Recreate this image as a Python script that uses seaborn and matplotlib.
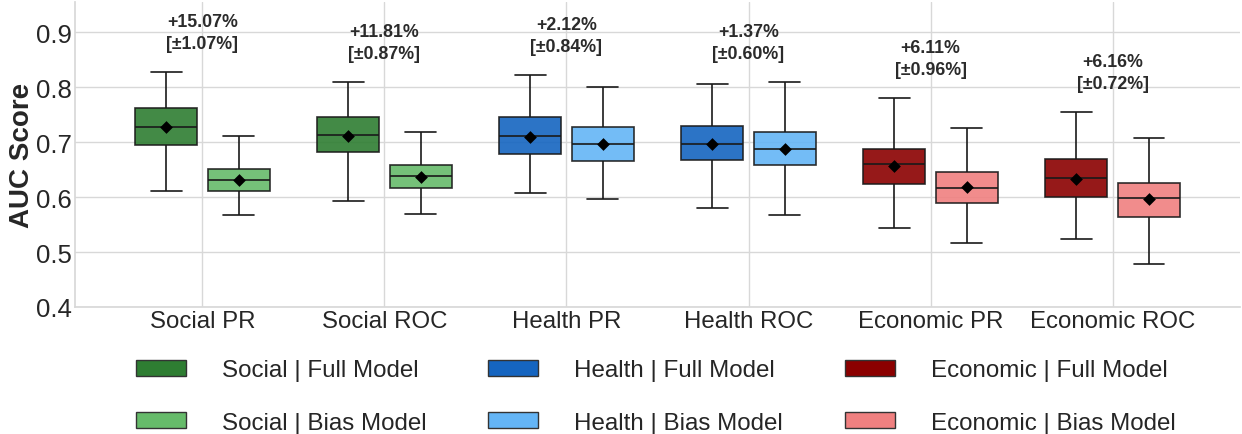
import numpy as np
import pandas as pd
import matplotlib
matplotlib.use("Agg")
import matplotlib.pyplot as plt
from matplotlib.patches import Patch
import seaborn as sns

metrics = ['Social PR', 'Social ROC', 'Health PR', 'Health ROC', 'Economic PR', 'Economic ROC']
domains = ['Social', 'Social', 'Health', 'Health', 'Economic', 'Economic']
models = ['Full Model', 'Bias Model']

# five-number summaries: low whisker, q1, median, q3, high whisker
full_stats = [
    [0.611, 0.695, 0.728, 0.763, 0.827],
    [0.593, 0.682, 0.713, 0.745, 0.809],
    [0.607, 0.679, 0.712, 0.745, 0.822],
    [0.581, 0.668, 0.697, 0.730, 0.806],
    [0.543, 0.623, 0.661, 0.688, 0.780],
    [0.523, 0.600, 0.634, 0.669, 0.754],
]
bias_stats = [
    [0.567, 0.612, 0.631, 0.652, 0.711],
    [0.570, 0.617, 0.639, 0.659, 0.719],
    [0.596, 0.666, 0.697, 0.727, 0.801],
    [0.568, 0.658, 0.687, 0.719, 0.809],
    [0.516, 0.590, 0.616, 0.645, 0.726],
    [0.478, 0.564, 0.599, 0.626, 0.708],
]
full_mean = [0.727, 0.711, 0.710, 0.696, 0.656, 0.633]
bias_mean = [0.632, 0.636, 0.696, 0.687, 0.618, 0.597]

gains = ['+15.07%', '+11.81%', '+2.12%', '+1.37%', '+6.11%', '+6.16%']
cis = ['±1.07%', '±0.87%', '±0.84%', '±0.60%', '±0.96%', '±0.72%']

colors = {
    'Social': ['#2E7D32', '#66BB6A'],
    'Health': ['#1565C0', '#64B5F6'],
    'Economic': ['#8B0000', '#F08080'],
}

rows = []
for m, d, fs, bs in zip(metrics, domains, full_stats, bias_stats):
    for v in fs:
        rows.append((m, d, 'Full Model', v))
    for v in bs:
        rows.append((m, d, 'Bias Model', v))
df = pd.DataFrame(rows, columns=['metric', 'domain', 'model', 'auc'])

means = pd.DataFrame({
    'metric': metrics * 2,
    'model': ['Full Model'] * 6 + ['Bias Model'] * 6,
    'auc': full_mean + bias_mean,
})

sns.set_theme(style='whitegrid')
plt.rcParams['font.family'] = ['Liberation Sans', 'DejaVu Sans']

fig = plt.figure(figsize=(12.42, 4.35), dpi=100)
ax = fig.add_axes([0.0604, 0.292, 0.938, 0.701])

for d in ['Social', 'Health', 'Economic']:
    sub = df[df.domain == d]
    sns.boxplot(data=sub, x='metric', y='auc', hue='model', order=metrics,
                hue_order=models, palette=colors[d], saturation=1, width=0.8, gap=0.15,
                whis=(0, 100), showfliers=False, linecolor='#1a1a1a',
                linewidth=1.2, legend=False, ax=ax)

for p in ax.patches:
    p.set_alpha(0.9)

sns.stripplot(data=means, x='metric', y='auc', hue='model', order=metrics,
              hue_order=models, dodge=True, jitter=False, marker='D',
              palette=['black', 'black'], size=6.5, legend=False, zorder=5, ax=ax)

for i in range(len(metrics)):
    top = max(full_stats[i][4], bias_stats[i][4])
    ax.text(i, top + 0.037, f'{gains[i]}\n[{cis[i]}]', ha='center', va='bottom',
            fontsize=12.8, fontweight='bold', color='#2b2b2b', linespacing=1.4)

ax.set_xlim(-0.7, 5.7)
ax.set_ylim(0.4, 0.955)
ax.set_yticks([0.4, 0.5, 0.6, 0.7, 0.8, 0.9])
ax.set_xlabel('')
ax.set_ylabel('AUC Score', fontsize=20, fontweight='bold')
ax.yaxis.set_label_coords(-0.034, 0.5)
ax.tick_params(axis='y', labelsize=18.5, length=0, pad=2.5)
ax.tick_params(axis='x', labelsize=17.3, length=0, pad=2.2)
ax.grid(True, color='#d8d8d8', linewidth=1)
for s in ['top', 'right']:
    ax.spines[s].set_visible(False)
for s in ['left', 'bottom']:
    ax.spines[s].set_color('#d8d8d8')

handles, labels = [], []
for d in ['Social', 'Health', 'Economic']:
    for k, mdl in enumerate(models):
        handles.append(Patch(facecolor=colors[d][k], edgecolor='#333333', linewidth=1))
        labels.append(f'{d} | {mdl}')
fig.legend(handles, labels, loc='center', bbox_to_anchor=(0.528, 0.086), ncol=3,
           frameon=False, fontsize=17.4, handlelength=2.07, handleheight=0.66,
           handletextpad=1.5, columnspacing=2.55, labelspacing=1.25)

fig.savefig('out.png', dpi=100)
